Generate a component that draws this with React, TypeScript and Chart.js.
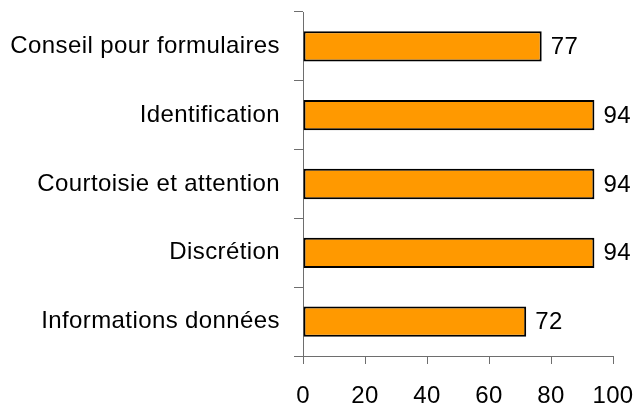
import React, { useEffect, useRef } from "react";
import { Chart, registerables } from "chart.js";

Chart.register(...registerables);

const categories = [
  "Conseil pour formulaires",
  "Identification",
  "Courtoisie et attention",
  "Discrétion",
  "Informations données",
];
const values = [77, 94, 94, 94, 72];
const xTickMin = 0;
const xTickMax = 100;
const xTickStep = 20;

const FONT_FAMILY = "'Liberation Sans', Arial, sans-serif";
const FONT_SIZE = 24;
const AXIS_COLOR = "#6e6e6e";

const spacing = {
  id: "spacing",
  beforeLayout(chart: any) {
    chart.ctx.letterSpacing = "0.4px";
  },
  beforeDraw(chart: any) {
    chart.ctx.letterSpacing = "0.4px";
  },
};

const valueLabels = {
  id: "valueLabels",
  afterDatasetsDraw(chart: any) {
    const ctx = chart.ctx;
    const meta = chart.getDatasetMeta(0);
    ctx.save();
    ctx.font = `${FONT_SIZE}px ${FONT_FAMILY}`;
    ctx.fillStyle = "#000";
    ctx.textAlign = "left";
    ctx.textBaseline = "middle";
    meta.data.forEach((bar: any, i: number) => {
      ctx.fillText(String(values[i]), bar.x + 9, bar.y + 1);
    });
    ctx.restore();
  },
};

export default function App() {
  const ref = useRef<HTMLCanvasElement | null>(null);
  useEffect(() => {
    document.body.style.margin = "0";
    const canvas = ref.current!;
    const chart = new Chart(canvas, {
      type: "bar",
      data: {
        labels: categories,
        datasets: [
          {
            data: values,
            backgroundColor: "#FF9900",
            borderColor: "#000",
            borderWidth: 2,
            borderSkipped: false,
            categoryPercentage: 1,
            barPercentage: 0.44,
          },
        ],
      },
      options: {
        indexAxis: "y",
        responsive: false,
        animation: false,
        layout: { padding: { top: 12, right: 24, left: 0, bottom: 0 } },
        plugins: {
          legend: { display: false },
          tooltip: { enabled: false },
        },
        scales: {
          y: {
            type: "category",
            grid: {
              offset: true,
              drawOnChartArea: false,
              drawTicks: true,
              tickLength: 9,
              tickColor: AXIS_COLOR,
              tickWidth: 1,
            },
            border: { display: true, color: AXIS_COLOR, width: 1 },
            ticks: {
              color: "#000",
              padding: 14,
              font: { family: FONT_FAMILY, size: FONT_SIZE },
            },
            afterFit(scale: any) {
              scale.width = 303;
              scale.paddingTop = 0;
              scale.paddingBottom = 0;
            },
          },
          x: {
            type: "linear",
            min: xTickMin,
            max: xTickMax,
            grid: {
              drawOnChartArea: false,
              drawTicks: true,
              tickLength: 8,
              tickColor: AXIS_COLOR,
              tickWidth: 1,
            },
            border: { display: true, color: AXIS_COLOR, width: 1 },
            ticks: {
              stepSize: xTickStep,
              color: "#000",
              padding: 18,
              maxRotation: 0,
              font: { family: FONT_FAMILY, size: FONT_SIZE },
            },
            afterFit(scale: any) {
              scale.height = 50;
              scale.paddingLeft = 0;
              scale.paddingRight = 0;
            },
          },
        },
      },
      plugins: [spacing, valueLabels],
    });
    return () => chart.destroy();
  }, []);
  return (
    <div style={{ width: 637, height: 406 }}>
      <canvas ref={ref} width={637} height={406} style={{ display: "block" }} />
    </div>
  );
}
